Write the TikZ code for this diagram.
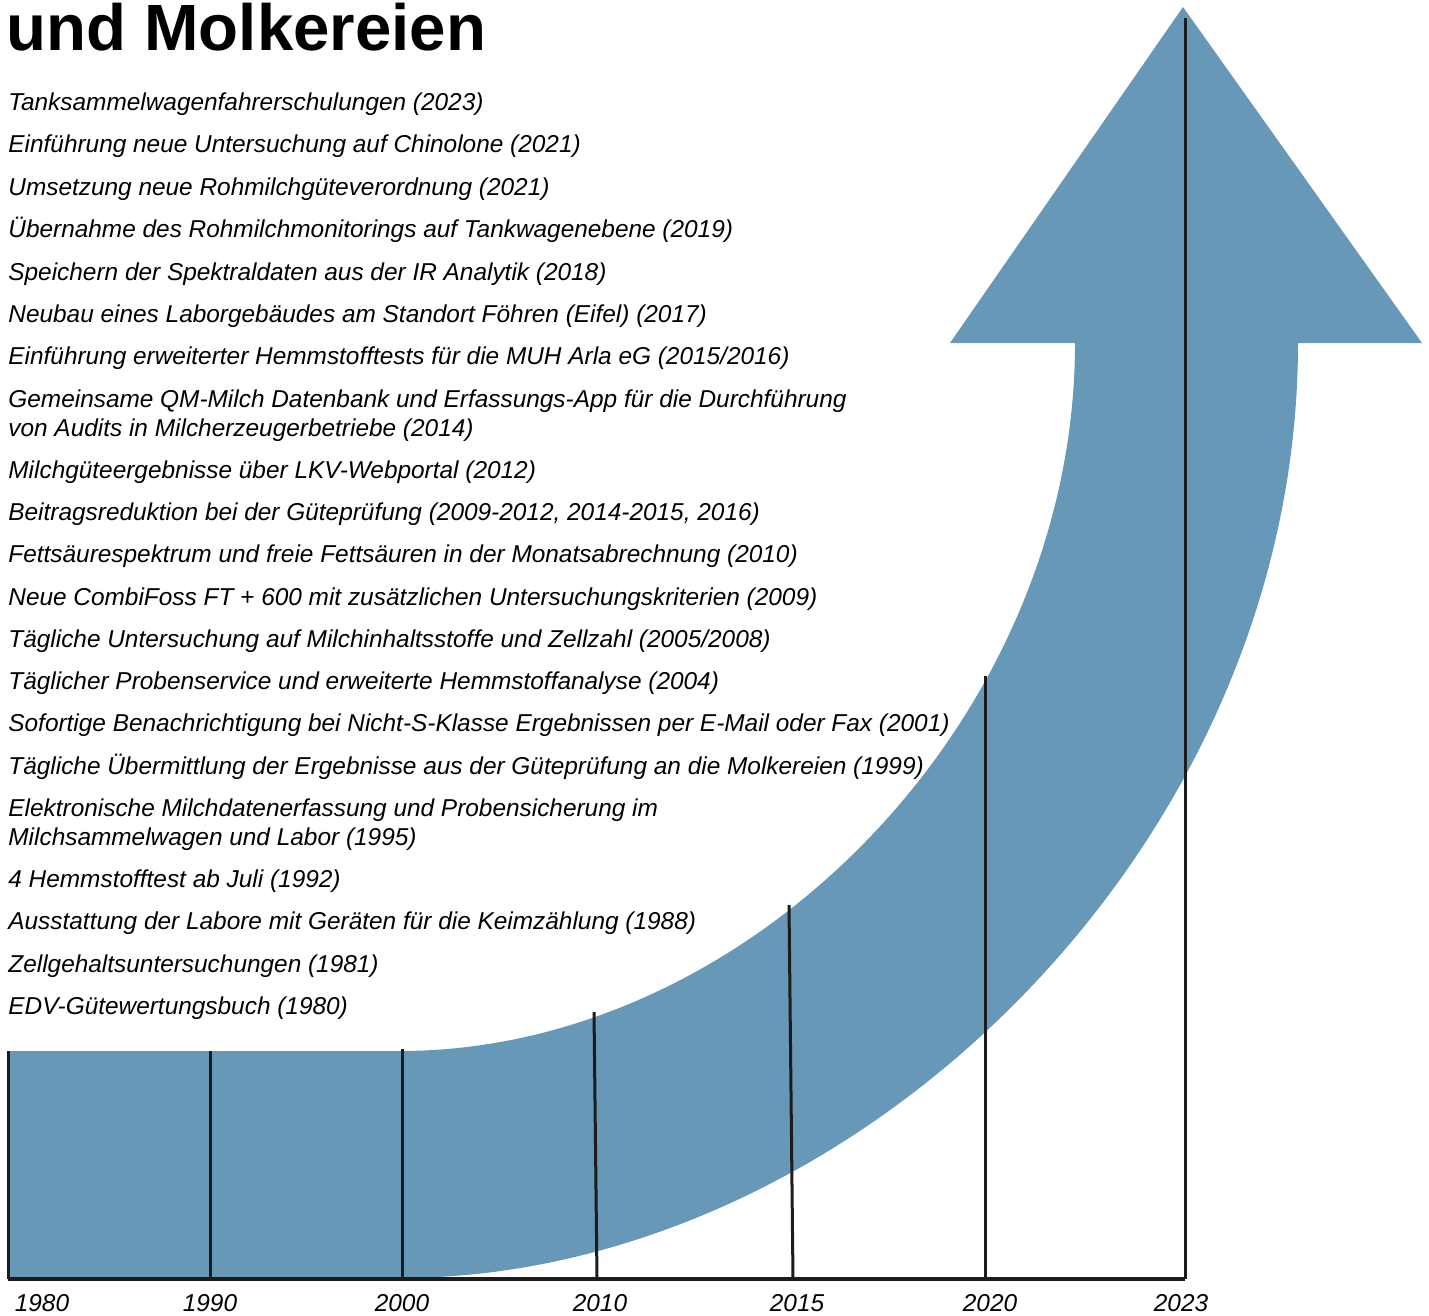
\documentclass[tikz,border=0pt]{standalone}
\usepackage{fontspec}
\setmainfont{Liberation Sans}
\definecolor{bandblue}{RGB}{103,152,184}
\definecolor{linegray}{RGB}{28,28,28}

\begin{document}
\begin{tikzpicture}[x=0.5pt, y=-0.5pt]
    \tikzset{entry/.style={anchor=base west, inner sep=0pt, align=left, font=\fontsize{12.2}{14.5}\selectfont\itshape}}
    \tikzset{yearlabel/.style={anchor=base, inner sep=0pt, font=\fontsize{12.2}{14.5}\selectfont\itshape}}
    \tikzset{tick/.style={draw=linegray, line width=1.5pt}}
    \useasboundingbox (0,0) rectangle (1429,1316);

    % ── BAND WITH ARROW HEAD ─────────────────────────────
    \fill[bandblue] (8,1051) -- (400,1051)
        .. controls (750,1051) and (1075,720) .. (1075,343)
        -- (950,343) -- (1183,7) -- (1422,343) -- (1298,343)
        .. controls (1298,850) and (850,1278) .. (400,1278)
        -- (8,1278) -- cycle;

    % ── TITLE ────────────────────────────────────────────
    \node[anchor=base west, inner sep=0pt, font=\fontsize{32.7}{36}\selectfont\bfseries] (title) at (6,51) {und Molkereien};

    % ── MILESTONES ───────────────────────────────────────
    % zweizeilige Eintraege: y = Grundlinie der zweiten Zeile
    \foreach \yy/\txt [count=\i] in {
        111/{Tanksammelwagenfahrerschulungen (2023)},
        153/{Einführung neue Untersuchung auf Chinolone (2021)},
        196/{Umsetzung neue Rohmilchgüteverordnung (2021)},
        238/{Übernahme des Rohmilchmonitorings auf Tankwagenebene (2019)},
        280/{Speichern der Spektraldaten aus der IR Analytik (2018)},
        322/{Neubau eines Laborgebäudes am Standort Föhren (Eifel) (2017)},
        364/{Einführung erweiterter Hemmstofftests für die MUH Arla eG (2015/2016)},
        436/{Gemeinsame QM-Milch Datenbank und Erfassungs-App für die Durchführung\\von Audits in Milcherzeugerbetriebe (2014)},
        478/{Milchgüteergebnisse über LKV-Webportal (2012)},
        520/{Beitragsreduktion bei der Güteprüfung (2009-2012, 2014-2015, 2016)},
        562/{Fettsäurespektrum und freie Fettsäuren in der Monatsabrechnung (2010)},
        605/{Neue CombiFoss FT + 600 mit zusätzlichen Untersuchungskriterien (2009)},
        647/{Tägliche Untersuchung auf Milchinhaltsstoffe und Zellzahl (2005/2008)},
        689/{Täglicher Probenservice und erweiterte Hemmstoffanalyse (2004)},
        731/{Sofortige Benachrichtigung bei Nicht-S-Klasse Ergebnissen per E-Mail oder Fax (2001)},
        774/{Tägliche Übermittlung der Ergebnisse aus der Güteprüfung an die Molkereien (1999)},
        845/{Elektronische Milchdatenerfassung und Probensicherung im\\Milchsammelwagen und Labor (1995)},
        887/{4 Hemmstofftest ab Juli (1992)},
        929/{Ausstattung der Labore mit Geräten für die Keimzählung (1988)},
        972/{Zellgehaltsuntersuchungen (1981)},
        1014/{EDV-Gütewertungsbuch (1980)}} {
        \node[entry] (item\i) at (8,\yy) {\txt};
    }

    % ── TIME AXIS ────────────────────────────────────────
    % Striche: oberes Ende / unteres Ende
    \foreach \xa/\ya/\xb [count=\i] in {8/1051/8, 210/1051/210, 402/1049/402, 594/1012/597,
        789/905/793, 985/676/985, 1185/18/1185} {
        \coordinate (top\i) at (\xa,\ya);
        \coordinate (foot\i) at (\xb,1279);
        \draw[tick] (top\i) -- (foot\i);
    }
    \draw[linegray, line width=2pt] (foot1) -- (foot7);

    % Jahreszahlen
    \foreach \xx/\yr [count=\i] in {42/1980, 210/1990, 402/2000, 600/2010, 797/2015, 990/2020, 1181/2023} {
        \node[yearlabel] (year\i) at (\xx,1311) {\yr};
    }
\end{tikzpicture}
\end{document}
